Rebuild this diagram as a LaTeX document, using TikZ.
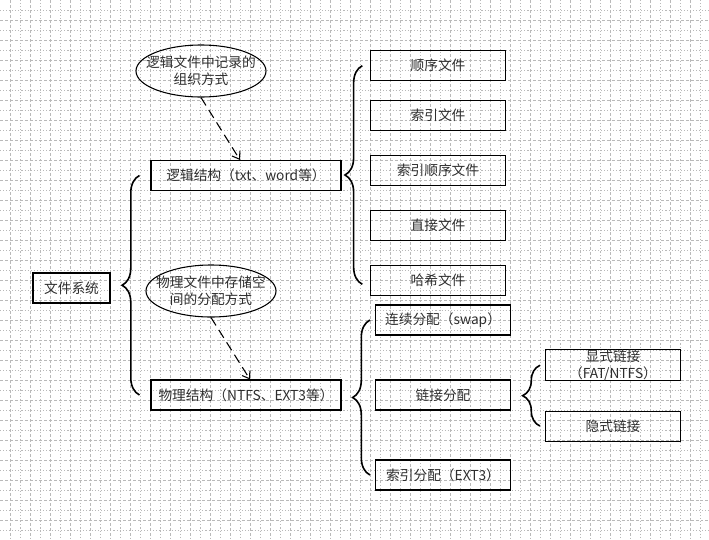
\documentclass[tikz,border=0pt]{standalone}
\usepackage{fontspec}
\setmainfont{Noto Sans CJK SC}
\usepackage{xcolor}
\usetikzlibrary{arrows.meta,positioning,shapes.geometric,decorations.pathreplacing}
\definecolor{fsgrid}{RGB}{185,185,185}
\definecolor{fstext}{RGB}{45,45,45}

\begin{document}
\begin{tikzpicture}[
  x=0.75pt, y=-0.75pt,
  box/.style={draw, line width=0.8pt, text=fstext, minimum width=101.25pt, minimum height=22.5pt, inner sep=0pt, align=center, font=\fontsize{10.3}{12.5}\selectfont},
  widebox/.style={box, minimum width=142.5pt},
  oval/.style={ellipse, draw, line width=0.8pt, minimum width=97.5pt, minimum height=39pt, inner sep=0pt},
  note/.style={align=center, text=fstext, font=\fontsize{10.3}{12.5}\selectfont},
  brc/.style={decorate, decoration={brace, amplitude=13pt}, line width=1.2pt},
  arr/.style={-{Straight Barb[length=5pt,width=7pt]}, line width=0.8pt, dash pattern=on 7pt off 4pt},
  gridA/.style={fsgrid, line width=0.6pt, dash pattern=on 2.2pt off 1.5pt},
  gridB/.style={fsgrid, line width=0.6pt, dash pattern=on 0.8pt off 1.5pt}
]
\useasboundingbox (0,0) rectangle (709,539);

% background grid
\foreach \gx in {10,30,...,700} \draw[gridA] (\gx,0) -- (\gx,539);
\foreach \gx in {20,40,...,700} \draw[gridB] (\gx,0) -- (\gx,539);
\foreach \gy in {10,30,...,530} \draw[gridB] (0,\gy) -- (709,\gy);
\foreach \gy in {20,40,...,530} \draw[gridA] (0,\gy) -- (709,\gy);

% root and the two structures
\node[box, minimum width=57.75pt] (fsys) at (71.5,288) {文件系统};
\node[widebox] (logic) at (246,175.5) {逻辑结构（txt、word等）};
\node[widebox] (phys) at (246,395) {物理结构（NTFS、EXT3等）};

% notes
\node[oval, label={[note]center:{逻辑文件中记录的\\组织方式}}] (lnote) at (201,71) {};
\node[oval, label={[note]center:{物理文件中存储空\\间的分配方式}}] (pnote) at (211,291) {};

% logical file kinds
\node[box] (seqf) at (438,65.7) {顺序文件};
\node[box] (idxf) at (438,115.5) {索引文件};
\node[box] (idxseqf) at (438,170.7) {索引顺序文件};
\node[box] (directf) at (438,225.7) {直接文件};
\node[box] (hashf) at (438,280.3) {哈希文件};

% physical allocation
\node[box] (contig) at (443,320) {连续分配（swap）};
\node[box] (linked) at (443,395) {链接分配};
\node[box] (indexed) at (443,475) {索引分配（EXT3）};
\node[box] (explicit) at (613,365.3) {显式链接\\（FAT/NTFS）};
\node[box, below=22pt of explicit] (implicit) {隐式链接};

\draw[arr] (lnote.south) -- ([xshift=-4.5pt]logic.north);
\draw[arr] (pnote.south) -- ([xshift=3pt]phys.north);

\draw[brc] ([xshift=-8.25pt]phys.west) -- ([xshift=-8.25pt]logic.west);
\draw[brc] ([xshift=-5.75pt,yshift=-3pt]hashf.west) -- ([xshift=-5.75pt]seqf.west);
\draw[brc] ([xshift=-3.75pt]indexed.west) -- ([xshift=-3.75pt]contig.west);
\draw[brc] ([xshift=-3.75pt]implicit.west) -- ([xshift=-3.75pt]explicit.west);
\end{tikzpicture}
\end{document}
